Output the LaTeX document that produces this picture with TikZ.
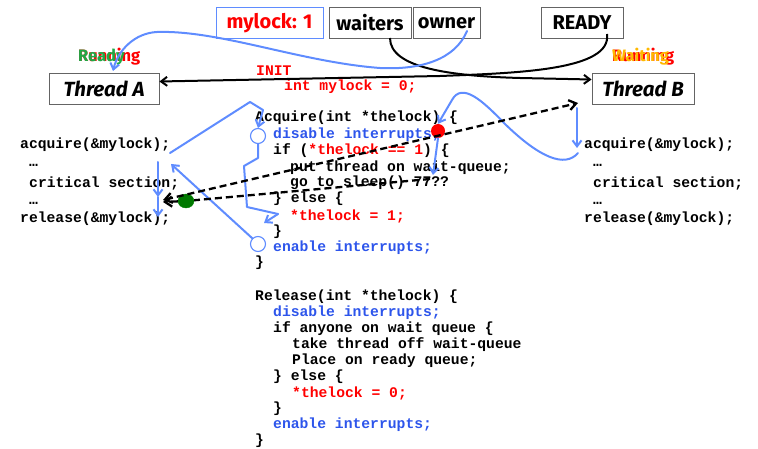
\documentclass[tikz,border=0pt]{standalone}
\usepackage{fontspec}
\setmainfont{Fira Sans}
\newfontfamily\codefont{Liberation Mono}
\usetikzlibrary{arrows.meta,shapes.geometric}

\definecolor{flow}{RGB}{95,140,255}
\definecolor{kwblue}{RGB}{45,85,235}
\definecolor{kwred}{RGB}{255,0,0}
\definecolor{boxgray}{RGB}{100,100,100}
\definecolor{okgreen}{RGB}{30,170,70}
\definecolor{waitorange}{RGB}{255,185,0}
\definecolor{dotgreen}{RGB}{0,120,0}

\tikzset{
  code/.style={anchor=west, inner sep=0pt, font=\codefont\bfseries\fontsize{14.7}{16}\selectfont},
  hdrbox/.style={draw=boxgray, line width=0.9pt, minimum height=31pt, inner sep=0pt,
                 font=\bfseries\fontsize{20}{22}\selectfont},
  thrbox/.style={draw=boxgray, line width=0.9pt, minimum height=31pt, inner sep=0pt,
                 font=\bfseries\itshape\fontsize{20.5}{22}\selectfont},
  state/.style={anchor=west, inner sep=0pt, font=\bfseries\fontsize{16.5}{18}\selectfont},
  flowline/.style={draw=flow, line width=2pt, line cap=round, line join=round},
  flowarrow/.style={flowline, -{Straight Barb[length=6pt,width=9pt]}},
  link/.style={draw=black, line width=2pt, -{Straight Barb[length=6pt,width=9pt]}},
  switch/.style={draw=black, line width=2.3pt, dash pattern=on 7pt off 4pt},
  marker/.style={draw=flow, line width=1.1pt, fill=white, circle, minimum size=15pt, inner sep=0pt},
}

\begin{document}
\begin{tikzpicture}[x=1pt,y=-1pt]
\useasboundingbox (0,0) rectangle (758,449);

% lock record and ready queue
\node[hdrbox, draw=flow, text=kwred, minimum width=107pt] (lock) at (269.5,23) {mylock: 1};
\node[hdrbox, minimum width=82pt] (waiters) at (370,23) {waiters};
\node[hdrbox, minimum width=67pt] (owner) at (446.5,23) {owner};
\node[hdrbox, minimum width=82pt] (ready) at (582,23) {READY};

% threads
\node[thrbox, minimum width=110pt] (thA) at (104,88.5) {Thread A};
\node[thrbox, minimum width=102pt] (thB) at (643,88.5) {Thread B};

\node[state, text=kwred] (runA) at (78,57) {Running};
\node[state, text=okgreen] (rdyA) at (78,57) {Ready};
\node[state, text=kwred] (runB) at (612,57) {Running};
\node[state, text=waitorange] (waitB) at (612,57) {Waiting};

% initialisation
\node[code, text=kwred] (init) at (256,71) {INIT};
\node[code, text=kwred] (initv) at (284,87) {int mylock = 0;};

% thread A program
\node[code] (a1) at (20,145) {acquire(\&mylock);};
\node[code] (a2) at (29,165) {…};
\node[code] (a3) at (29,183) {critical section;};
\node[code] (a4) at (29,203) {…};
\node[code] (a5) at (20,219) {release(\&mylock);};

% thread B program
\node[code] (b1) at (584,145) {acquire(\&mylock);};
\node[code] (b2) at (593,165) {…};
\node[code] (b3) at (593,183) {critical section;};
\node[code] (b4) at (593,203) {…};
\node[code] (b5) at (584,219) {release(\&mylock);};

% Acquire
\node[code] (q0) at (255,118) {Acquire(int *thelock) \{};
\node[code, text=kwblue] (q1) at (273,135) {disable interrupts;};
\node[code] (q2) at (273,151) {if (\textcolor{kwred}{*thelock == 1}) \{};
\node[code] (q3) at (290,168) {put thread on wait-queue;};
\node[code] (q4) at (290,183) {go to sleep() 77??};
\node[code] (q5) at (273,199) {\} else \{};
\node[code, text=kwred] (q6) at (290,216) {*thelock = 1;};
\node[code] (q7) at (273,232) {\}};
\node[code, text=kwblue] (q8) at (273,248) {enable interrupts;};
\node[code] (q9) at (255,263) {\}};

% Release
\node[code] (r0) at (255,297) {Release(int *thelock) \{};
\node[code, text=kwblue] (r1) at (273,313) {disable interrupts;};
\node[code] (r2) at (273,329) {if anyone on wait queue \{};
\node[code] (r3) at (292,345) {take thread off wait-queue};
\node[code] (r4) at (292,361) {Place on ready queue;};
\node[code] (r5) at (273,377) {\} else \{};
\node[code, text=kwred] (r6) at (292,393) {*thelock = 0;};
\node[code] (r7) at (273,409) {\}};
\node[code, text=kwblue] (r8) at (273,425) {enable interrupts;};
\node[code] (r9) at (255,441) {\}};

% queue links
\coordinate (readyout) at (607,34);
\coordinate (waitout) at (390,38);
\draw[link] (readyout) .. controls (612,70) and (520,73) .. (440,76) -- ([yshift=7pt]thA.east);
\draw[link] (waitout) .. controls (390,68) and (450,76) .. (520,78) -- ([yshift=9pt]thB.west);

% owner hands lock back to thread A
\coordinate (ownerpt) at (467,31);
\draw[flowarrow] (ownerpt) .. controls (455,60) and (420,70) .. (380,68)
   .. controls (300,62) and (220,30) .. (157,32)
   .. controls (135,33) and (118,50) .. (113,71);

% execution markers
\node[marker] (m1) at (258,136) {};
\node[marker] (m2) at (258,244) {};
\node[circle, fill=kwred, minimum size=14pt, inner sep=0pt] (rdot) at (438,131) {};
\node[ellipse, draw=green!50!black, fill=dotgreen, minimum width=16pt, minimum height=14pt, inner sep=0pt] (gdot) at (186,201) {};

% thread A flow
\coordinate (aout) at (170,153);
\draw[flowarrow] (aout) -- (250,102) -- (263,110) -- (m1.north);
\draw[flowline] (m1.south) -- (258,158) -- (244,166) -- (247,207) -- (278,214);
\draw[flowarrow] (278,214) -- (264,223);
\draw[flowarrow] (m2.north west) -- (171,164);
\coordinate (ain) at (158,162);
\coordinate (amid) at (158,197);
\coordinate (aend) at (158,217);
\draw[flowarrow] (ain) -- (amid);
\draw[flowarrow] (amid) -- (aend);

% thread B flow
\coordinate (bin) at (577,108);
\coordinate (bstop) at (577,148);
\draw[flowarrow] (bin) -- (bstop);
\coordinate (bout) at (578,153);
\draw[flowarrow] (bout) .. controls (565,168) and (540,158) .. (505,124)
   .. controls (482,100) and (462,82) .. (452,100) -- (rdot.north);
\draw[flowarrow] (rdot.south) -- (433,175);

% context switches
\coordinate (swA) at (163,200);
\coordinate (swB) at (578,103);
\coordinate (sleepend) at (430,179);
\draw[switch, {Straight Barb[length=7pt,width=10pt]}-{Straight Barb[length=7pt,width=10pt]}] (swA) -- (swB);
\draw[switch, -{Straight Barb[length=7pt,width=10pt]}] (sleepend) -- (gdot) -- ([yshift=-2pt]swA);
\end{tikzpicture}
\end{document}
